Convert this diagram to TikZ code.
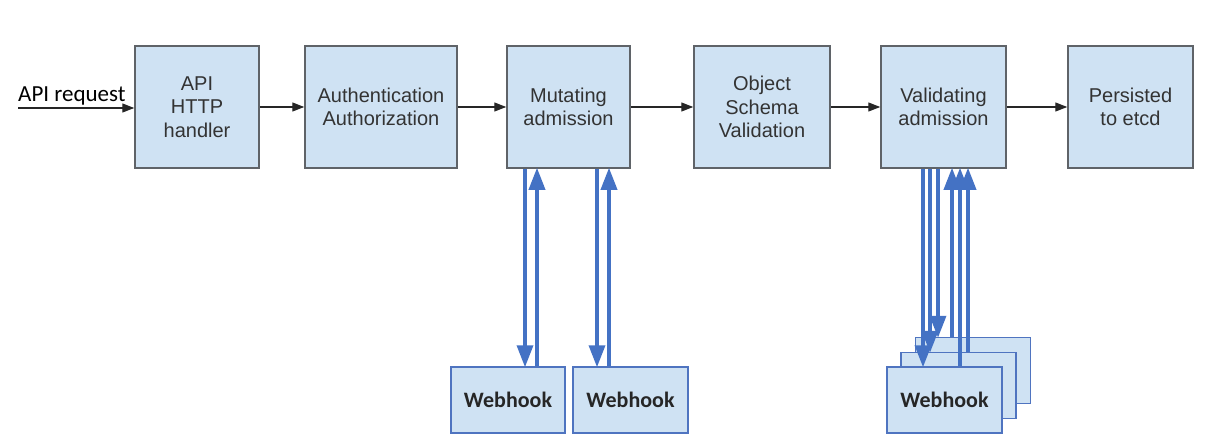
\documentclass[tikz,border=0pt]{standalone}
\usepackage{fontspec}
\setmainfont{Liberation Sans}
\newfontfamily\carl{Carlito}
\usetikzlibrary{arrows.meta}
\definecolor{boxfill}{HTML}{CFE2F3}
\definecolor{boxline}{HTML}{5F6368}
\definecolor{txt}{HTML}{333333}
\definecolor{hookblue}{HTML}{4472C4}
\definecolor{hookline}{HTML}{4F74C0}
\tikzset{
  stage/.style={draw=boxline, line width=1.5pt, fill=boxfill, minimum height=122pt, inner sep=0pt, align=center, text=txt, font=\fontsize{20}{23.5}\selectfont},
  hook/.style={draw=hookline, line width=1.5pt, fill=boxfill, minimum width=115pt, minimum height=66pt, inner sep=0pt, text=black!85, font=\carl\bfseries\fontsize{22}{24}\selectfont},
  flow/.style={draw=black!85, line width=1.3pt, -{Triangle[length=12pt,width=9pt]}},
  call/.style={draw=hookblue, line width=3.5pt, -{Triangle[length=22pt,width=16pt]}, shorten >=-1pt}
}
\begin{document}
\begin{tikzpicture}[x=1pt,y=-1pt]
\useasboundingbox (0,0) rectangle (1205,441);
% top row
\node[stage, minimum width=124pt] (api) at (197,107) {API\\HTTP\\handler};
\node[stage, minimum width=152pt] (auth) at (381,107) {Authentication\\Authorization};
\node[stage, minimum width=123pt] (mut) at (568.5,107) {Mutating\\admission};
\node[stage, minimum width=136pt] (obj) at (762,107) {Object\\Schema\\Validation};
\node[stage, minimum width=125pt] (val) at (943.5,107) {Validating\\admission};
\node[stage, minimum width=125pt] (per) at (1130.5,107) {Persisted\\to etcd};
% request
\node[anchor=base west, inner sep=0pt, font=\carl\fontsize{23}{25}\selectfont, text=black] (req) at (18,102) {API request};
\coordinate (start) at (18,108);
\draw[flow] (start) -- (start -| api.west);
\draw[flow] (api.east) -- (auth.west);
\draw[flow] (auth.east) -- (mut.west);
\draw[flow] (mut.east) -- (obj.west);
\draw[flow] (obj.east) -- (val.west);
\draw[flow] (val.east) -- (per.west);
% mutating webhooks
\node[hook, minimum width=114pt] (wh1) at (508,400) {Webhook};
\node[hook] (wh2) at (630.5,400) {Webhook};
\draw[call] ([xshift=17pt]wh1.north |- mut.south) -- ([xshift=17pt]wh1.north);
\draw[call] ([xshift=29pt]wh1.north) -- ([xshift=29pt]wh1.north |- mut.south);
\draw[call] ([xshift=-33.5pt]wh2.north |- mut.south) -- ([xshift=-33.5pt]wh2.north);
\draw[call] ([xshift=-21.5pt]wh2.north) -- ([xshift=-21.5pt]wh2.north |- mut.south);
% validating webhooks (stack)
\node[hook] (vb) at (973,370.5) {};
\node[hook] (vm) at (958.5,385.5) {};
\node[hook] (vf) at (944.5,400) {Webhook};
\draw[call] ([xshift=-21.5pt]vf.north |- val.south) -- ([xshift=-21.5pt]vf.north);
\draw[call] ([xshift=-28.5pt]vm.north |- val.south) -- ([xshift=-28.5pt]vm.north);
\draw[call] ([xshift=-35pt]vb.north |- val.south) -- ([xshift=-35pt]vb.north);
\draw[call] ([xshift=-21pt]vb.north) -- ([xshift=-21pt]vb.north |- val.south);
\draw[call] ([xshift=15.5pt]vf.north) -- ([xshift=15.5pt]vf.north |- val.south);
\draw[call] ([xshift=9.5pt]vm.north) -- ([xshift=9.5pt]vm.north |- val.south);
\end{tikzpicture}
\end{document}
